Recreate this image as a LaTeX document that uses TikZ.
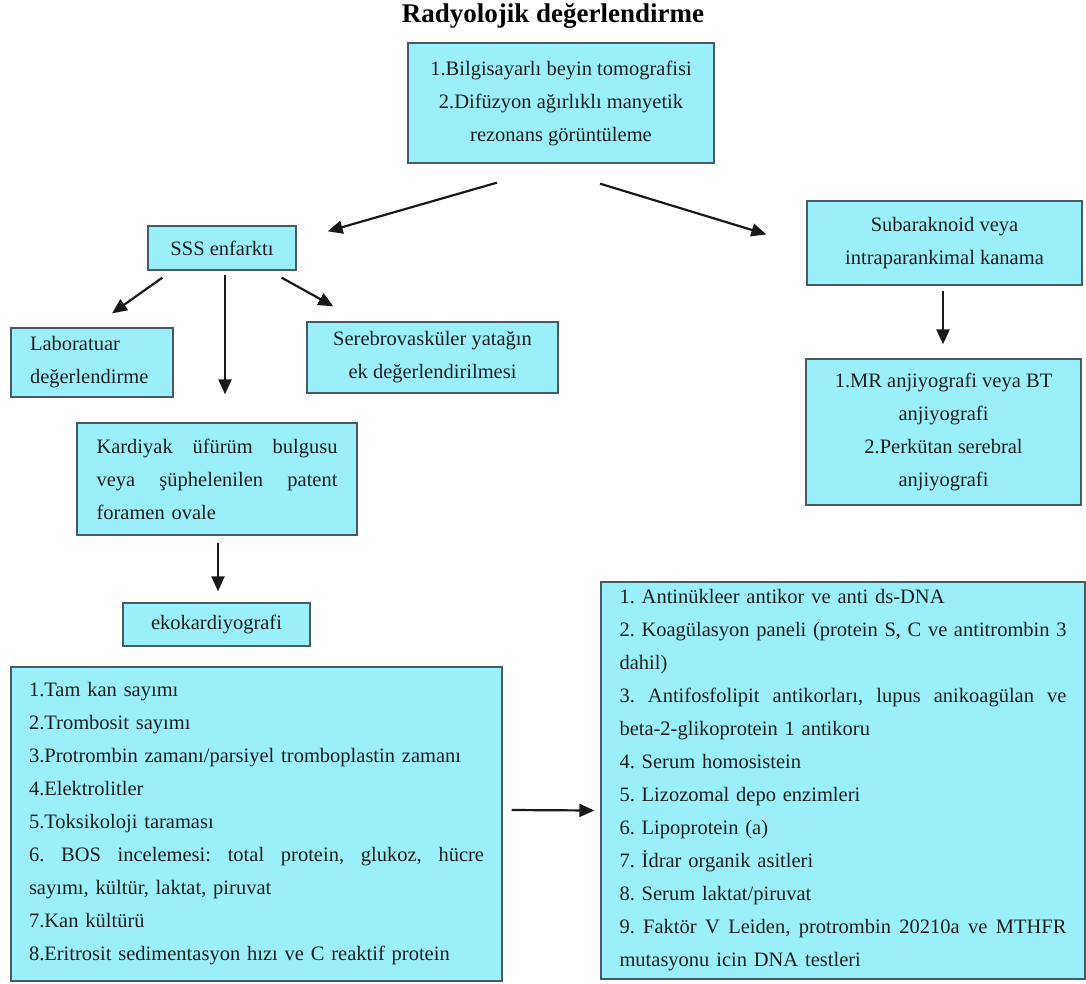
\documentclass[tikz,border=0pt]{standalone}
\usepackage{fontspec}
\setmainfont{Liberation Serif}
\frenchspacing
\usetikzlibrary{arrows.meta}
\definecolor{kutumavi}{RGB}{155,239,250}
\definecolor{kutukenar}{RGB}{70,92,96}
\tikzset{
  akis/.style={x=1pt, y=-1pt},
  kutu/.style={draw=kutukenar, line width=1.3pt, fill=kutumavi, inner sep=0pt, text=black!88,
               font=\fontsize{20.5}{33}\selectfont, align=center},
  liste/.style={kutu, align=left},
  ok/.style={-{Triangle[length=15pt,width=13pt]}, line width=2.2pt, black!90},
  baslik/.style={font=\fontsize{27}{30}\selectfont\bfseries}
}

\begin{document}
\begin{tikzpicture}[akis]
\useasboundingbox (0,0) rectangle (1086,983);
\node[baslik] (baslik) at (553,16) {Radyolojik değerlendirme};
% ust sira
\node[kutu, minimum width=306pt, minimum height=120pt] (radyo) at (561,103)
  {1.Bilgisayarlı beyin tomografisi\\2.Difüzyon ağırlıklı manyetik\\rezonans görüntüleme};
\node[kutu, minimum width=148pt, minimum height=44pt] (sss) at (222,248) {SSS enfarktı};
\node[kutu, minimum width=275pt, minimum height=84pt] (subar) at (944.5,243)
  {Subaraknoid veya\\intraparankimal kanama};
% sol dal
\node[liste, text width=124pt, inner xsep=19pt, minimum height=69pt] (lab) at (92,362.5)
  {Laboratuar\\değerlendirme};
\node[kutu, minimum width=251pt, minimum height=71pt] (serebro) at (432.5,357.5)
  {Serebrovasküler yatağın\\ek değerlendirilmesi};
\node[liste, text width=241pt, inner xsep=19.5pt, minimum height=112pt] (kard) at (217,479)
  {Kardiyak\hfill üfürüm\hfill bulgusu\\veya\hfill şüphelenilen\hfill patent\\foramen ovale};
\node[kutu, minimum width=187pt, minimum height=43pt] (eko) at (216.5,624.5) {ekokardiyografi};
\node[kutu, minimum width=275pt, minimum height=146pt] (anjio) at (943.5,432)
  {1.MR anjiyografi veya BT\\anjiyografi\\2.Perkütan serebral\\anjiyografi};
% alt listeler
\node[liste, text width=455pt, inner xsep=18pt, minimum height=314pt] (labs) at (256.5,824)
  {1.Tam kan sayımı\\
   2.Trombosit sayımı\\
   3.Protrombin zamanı/parsiyel tromboplastin zamanı\\
   4.Elektrolitler\\
   5.Toksikoloji taraması\\
   6.\hfill BOS\hfill incelemesi:\hfill total\hfill protein,\hfill glukoz,\hfill hücre\\
   sayımı, kültür, laktat, piruvat\\
   7.Kan kültürü\\
   8.Eritrosit sedimentasyon hızı ve C reaktif protein};
\node[liste, text width=447pt, inner xsep=18.5pt, minimum height=397pt] (testler) at (843,780.5)
  {1. Antinükleer antikor ve anti ds-DNA\\
   2.\hfill Koagülasyon\hfill paneli\hfill (protein\hfill S,\hfill C\hfill ve\hfill antitrombin\hfill 3\\
   dahil)\\
   3.\hfill Antifosfolipit\hfill antikorları,\hfill lupus\hfill anikoagülan\hfill ve\\
   beta-2-glikoprotein 1 antikoru\\
   4. Serum homosistein\\
   5. Lizozomal depo enzimleri\\
   6. Lipoprotein (a)\\
   7. İdrar organik asitleri\\
   8. Serum laktat/piruvat\\
   9.\hfill Faktör\hfill V\hfill Leiden,\hfill protrombin\hfill 20210a\hfill ve\hfill MTHFR\\
   mutasyonu icin DNA testleri};
% oklar
\draw[ok] ([xshift=-64pt,yshift=-19pt]radyo.south) -- ([xshift=31pt,yshift=-6pt]sss.north east);
\draw[ok] ([xshift=39pt,yshift=-20pt]radyo.south) -- ([xshift=-40pt,yshift=-34pt]subar.north west);
\draw[ok] ([xshift=15pt,yshift=-7pt]sss.south west) -- ([xshift=20pt,yshift=14pt]lab.north);
\draw[ok] ([xshift=3pt,yshift=-4pt]sss.south) -- ([xshift=8pt,yshift=28pt]kard.north);
\draw[ok] ([xshift=-15pt,yshift=-7pt]sss.south east) -- ([xshift=27pt,yshift=15pt]serebro.north west);
\draw[ok] ([xshift=1pt,yshift=-7pt]kard.south) -- ([xshift=1.5pt,yshift=11pt]eko.north);
\draw[ok] ([xshift=-1.5pt,yshift=-5pt]subar.south) -- ([xshift=-0.5pt,yshift=14pt]anjio.north);
\draw[ok] ([xshift=9pt,yshift=14pt]labs.east) -- ([xshift=-6pt,yshift=-30pt]testler.west);
\end{tikzpicture}
\end{document}
